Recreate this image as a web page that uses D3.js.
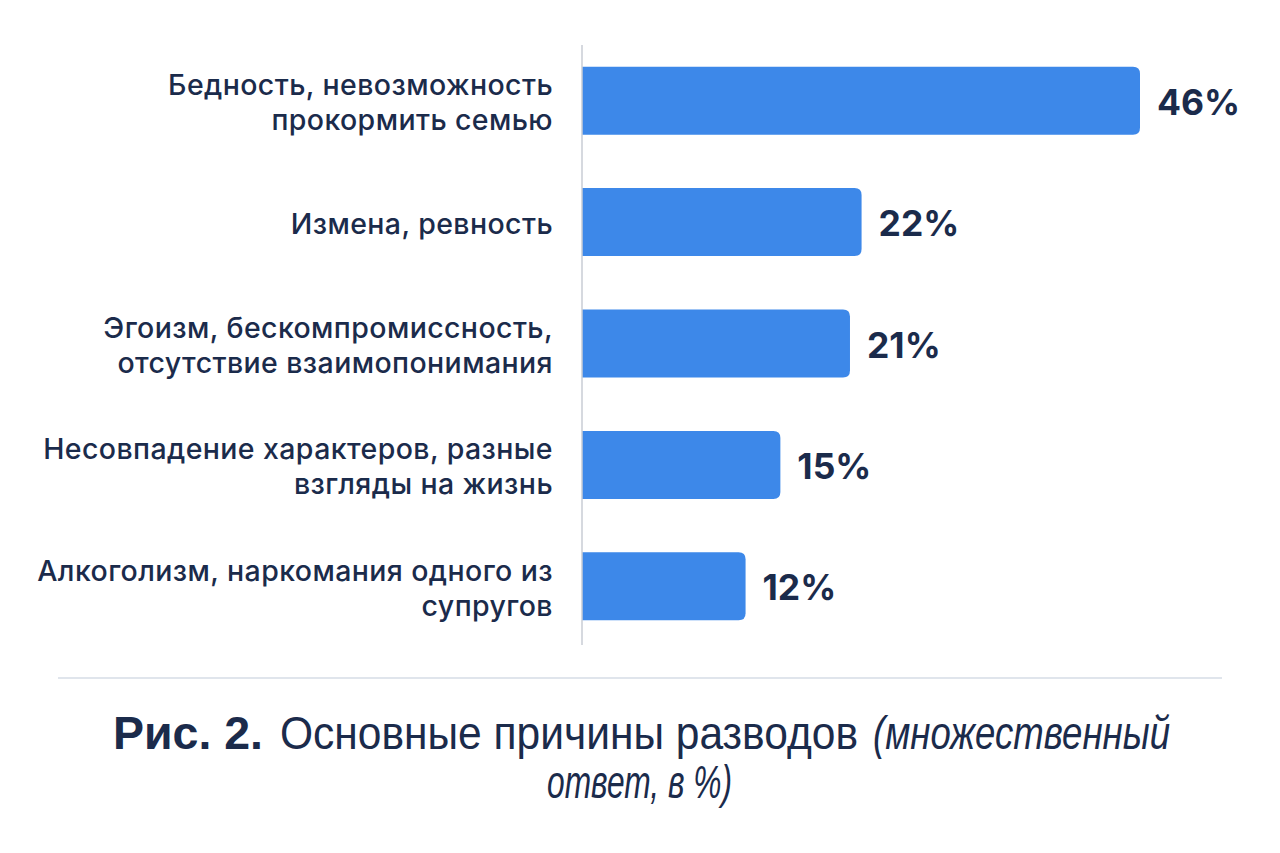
<!DOCTYPE html>
<html>
<head>
<meta charset="utf-8">
<script src="https://cdn.jsdelivr.net/npm/d3@7"></script>
<style>
  html, body { margin: 0; padding: 0; background: #fff; }
  svg { display: block; }
</style>
</head>
<body>
<svg id="chart" width="1280" height="853"></svg>
<script>
// data
const categories = [
  ['Бедность, невозможность', 'прокормить семью'],
  ['Измена, ревность'],
  ['Эгоизм, бескомпромиссность,', 'отсутствие взаимопонимания'],
  ['Несовпадение характеров, разные', 'взгляды на жизнь'],
  ['Алкоголизм, наркомания одного из', 'супругов']
]
const values = [46, 22, 21, 15, 12]
const valueLabels = ['46%', '22%', '21%', '15%', '12%']
const captionBold = 'Рис. 2.'
const captionMain = 'Основные причины разводов'
const captionItalic1 = '(множественный'
const captionItalic2 = 'ответ, в %)'

const navy = '#1b2b4b'
const barColor = '#3d88e9'
const axisX = 582

const svg = d3.select('#chart')

const y = d3.scaleBand()
  .domain(d3.range(values.length))
  .range([40, 647])
  .paddingInner(0.44)
  .paddingOuter(0.22)

const x = d3.scaleLinear()
  .domain([-2.1, 46])
  .range([axisX, 1140])

// bars: square left edge, rounded right edge
function barPath (x0, y0, x1, h, r) {
  return `M${x0},${y0}H${x1 - r}Q${x1},${y0} ${x1},${y0 + r}` +
    `V${y0 + h - r}Q${x1},${y0 + h} ${x1 - r},${y0 + h}H${x0}Z`
}

svg.append('g')
  .selectAll('path')
  .data(values)
  .join('path')
  .attr('d', (d, i) => barPath(x(-2.1), y(i), x(d), y.bandwidth(), 7))
  .attr('fill', barColor)

// vertical axis line
svg.append('line')
  .attr('x1', axisX).attr('x2', axisX)
  .attr('y1', 45).attr('y2', 645)
  .attr('stroke', '#c9cdd5')
  .attr('stroke-width', 1.5)

// category labels
const lineH = 35
svg.append('g')
  .selectAll('text')
  .data(categories)
  .join('text')
  .attr('text-anchor', 'end')
  .attr('font-family', 'Inter, "Noto Sans", sans-serif')
  .attr('font-weight', 500)
  .attr('font-size', 28.5)
  .attr('letter-spacing', 0.4)
  .attr('fill', navy)
  .each(function (lines, i) {
    const cy = y(i) + y.bandwidth() / 2
    d3.select(this).selectAll('tspan')
      .data(lines)
      .join('tspan')
      .attr('x', 553)
      .attr('y', (l, j) => cy + (j - (lines.length - 1) / 2) * lineH + 12)
      .text(l => l)
  })

// value labels
svg.append('g')
  .selectAll('text')
  .data(values)
  .join('text')
  .attr('x', d => x(d) + 17)
  .attr('y', (d, i) => y(i) + y.bandwidth() / 2 + 14)
  .attr('font-family', 'Inter, "Noto Sans", sans-serif')
  .attr('font-weight', 700)
  .attr('font-size', 35.5)
  .attr('fill', navy)
  .text((d, i) => valueLabels[i])

// separator
svg.append('line')
  .attr('x1', 58).attr('x2', 1222)
  .attr('y1', 678).attr('y2', 678)
  .attr('stroke', '#d6dce6')
  .attr('stroke-width', 1.5)

// caption pieces (regular and italic parts are set condensed)
const capFont = '"Liberation Sans", Arial, sans-serif'
const capParts = [
  { t: captionBold, x: 113, y: 749, w: 150, weight: 700, style: 'normal' },
  { t: captionMain, x: 280, y: 749, w: 578, weight: 400, style: 'normal' },
  { t: captionItalic1, x: 873, y: 749, w: 297, weight: 400, style: 'italic' },
  { t: captionItalic2, x: 547, y: 798, w: 185, weight: 400, style: 'italic' }
]
svg.append('g')
  .selectAll('text')
  .data(capParts)
  .join('text')
  .attr('x', d => d.x)
  .attr('y', d => d.y)
  .attr('textLength', d => d.w)
  .attr('lengthAdjust', 'spacingAndGlyphs')
  .attr('font-family', capFont)
  .attr('font-size', 46)
  .attr('font-weight', d => d.weight)
  .attr('font-style', d => d.style)
  .attr('fill', navy)
  .text(d => d.t)
</script>
</body>
</html>
